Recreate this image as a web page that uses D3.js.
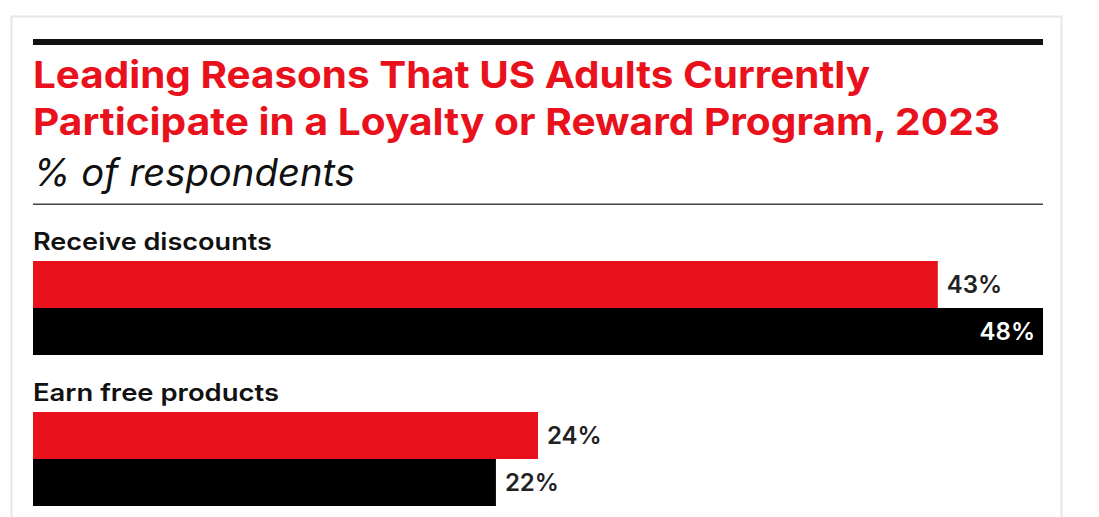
<!DOCTYPE html>
<html>
<head>
<meta charset="utf-8">
<script src="https://cdn.jsdelivr.net/npm/d3@7"></script>
<style>
  html, body { margin: 0; padding: 0; background: #fff; }
  svg { display: block; }
</style>
</head>
<body>
<svg id="chart" width="1099" height="517"></svg>
<script>
const titleLines = ["Leading Reasons That US Adults Currently", "Participate in a Loyalty or Reward Program, 2023"];
const subtitle = "% of respondents";
const categories = ["Receive discounts", "Earn free products"];
const seriesNames = ["series1", "series2"];
const series1 = [43, 24];
const series2 = [48, 22];
const xMax = 48;

const colors = { series1: "#e8111c", series2: "#000000" };

const svg = d3.select("#chart");
const left = 33, right = 1043;
const font = "Inter, 'Liberation Sans', Arial, sans-serif";

// layout widths of text blocks (styling, fitted to the reference)
const titleWidths = [837, 967];
const subtitleWidth = 322;
const catLabelWidths = [239, 246];

// card
svg.append("rect").attr("x", 11.5).attr("y", 16.5).attr("width", 1050).attr("height", 600)
  .attr("fill", "#fff").attr("stroke", "#e6e6e6").attr("stroke-width", 2);

// top thick rule
svg.append("rect").attr("x", left).attr("y", 39).attr("width", right - left).attr("height", 6).attr("fill", "#111");

// title
titleLines.forEach((t, i) => {
  svg.append("text").attr("x", left).attr("y", 88 + i * 47)
    .attr("font-family", font).attr("font-weight", 700).attr("font-size", 37.5)
    .attr("fill", "#e8111c")
    .attr("textLength", titleWidths[i]).attr("lengthAdjust", "spacingAndGlyphs")
    .text(t);
});

// subtitle
svg.append("text").attr("x", left).attr("y", 186).attr("font-family", font)
  .attr("font-style", "italic").attr("font-weight", 400).attr("font-size", 37.5)
  .attr("fill", "#111")
  .attr("textLength", subtitleWidth).attr("lengthAdjust", "spacingAndGlyphs")
  .text(subtitle);

// thin rule
svg.append("rect").attr("x", left).attr("y", 203.5).attr("width", right - left).attr("height", 1.5).attr("fill", "#444");

// scales
const x = d3.scaleLinear().domain([0, xMax]).range([left, right]);
const pad = 57 / 151;
const y0 = d3.scaleBand().domain(categories).range([261, 261 + 151 * (2 - pad)])
  .paddingInner(pad).paddingOuter(0).align(0);
const y1 = d3.scaleBand().domain(seriesNames).range([0, y0.bandwidth()]).padding(0);

const data = categories.map((c, i) => ({
  cat: c, idx: i,
  vals: [{ s: "series1", v: series1[i] }, { s: "series2", v: series2[i] }]
}));

const g = svg.selectAll("g.group").data(data).join("g").attr("class", "group")
  .attr("transform", d => `translate(0,${y0(d.cat)})`);

g.append("text").attr("x", left).attr("y", -11).attr("font-family", font)
  .attr("font-weight", 600).attr("font-size", 24).attr("fill", "#111")
  .attr("textLength", d => catLabelWidths[d.idx]).attr("lengthAdjust", "spacingAndGlyphs")
  .text(d => d.cat);

const bars = g.selectAll("g.bar").data(d => d.vals).join("g").attr("class", "bar");
bars.append("rect")
  .attr("x", x(0))
  .attr("y", d => y1(d.s))
  .attr("width", d => x(d.v) - x(0))
  .attr("height", y1.bandwidth())
  .attr("fill", d => colors[d.s]);

bars.append("text")
  .attr("font-family", font).attr("font-weight", 600).attr("font-size", 24)
  .attr("y", d => y1(d.s) + y1.bandwidth() / 2)
  .attr("dy", "0.36em")
  .each(function(d) {
    const inside = x(d.v) + 66 > right;
    d3.select(this)
      .attr("x", inside ? x(d.v) - 8 : x(d.v) + 9)
      .attr("text-anchor", inside ? "end" : "start")
      .attr("fill", inside ? "#fff" : "#222");
  })
  .text(d => d.v + "%");
</script>
</body>
</html>
